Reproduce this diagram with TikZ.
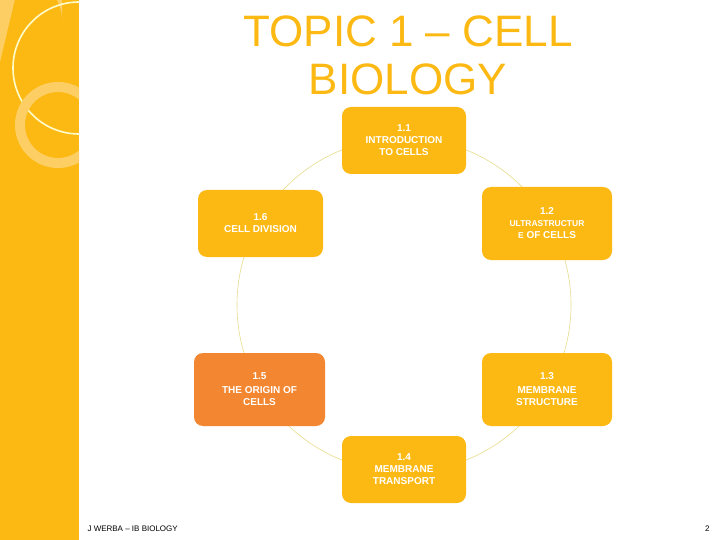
\documentclass[tikz,border=0pt]{standalone}
\usepackage{fontspec}
\setmainfont{Liberation Sans}
\definecolor{gold}{RGB}{253,185,19}
\definecolor{lgold}{RGB}{252,206,100}
\definecolor{orng}{RGB}{243,134,48}
\definecolor{ring}{RGB}{232,220,140}
\begin{document}
\begin{tikzpicture}[x=1pt,y=-1pt,
  topic/.style={fill=gold,rounded corners=9pt,text=white,align=center,font=\fontsize{10}{12}\selectfont\bfseries,inner sep=2pt},
  conn/.style={draw=ring,line width=0.6pt}]
\useasboundingbox (0,0) rectangle (720,540);
\fill[white] (0,0) rectangle (720,540);
\fill[gold] (0,0) rectangle (79,540);
\begin{scope}
\clip (0,0) rectangle (79,540);
\fill[lgold] (0,0) -- (62,0) -- (62,20) arc[start angle=0,end angle=90,x radius=42,y radius=-42] -- (0,62) -- cycle;
\draw[white!80!yellow,line width=1.6pt] (79,68) circle[radius=66];
\draw[lgold,line width=10pt] (58,125) circle[radius=38];
\end{scope}
\node[text=gold,font=\fontsize{44}{48}\selectfont,align=center] (title) at (408,55)
  {TOPIC 1 – CELL\\BIOLOGY};
\draw[conn] (404,305) circle[radius=167];
\node[topic,minimum width=124pt,minimum height=67pt] (t1) at (404,140.5) {1.1\\INTRODUCTION\\TO CELLS};
\node[topic,minimum width=130pt,minimum height=73pt] (t2) at (547,223.5) {1.2\\{\fontsize{8.5}{10}\selectfont ULTRASTRUCTUR}\\{\fontsize{8.5}{10}\selectfont E} OF CELLS};
\node[topic,minimum width=130pt,minimum height=73pt] (t3) at (547,389.5) {1.3\\[2pt]MEMBRANE\\STRUCTURE};
\node[topic,minimum width=124pt,minimum height=67pt] (t4) at (404,469.5) {1.4\\MEMBRANE\\TRANSPORT};
\node[topic,fill=orng,minimum width=131pt,minimum height=73pt] (t5) at (259.5,389.5) {1.5\\[2pt]THE ORIGIN OF\\CELLS};
\node[topic,minimum width=125pt,minimum height=67pt] (t6) at (260.5,223.5) {1.6\\CELL DIVISION};
\node[anchor=west,font=\fontsize{8}{10}\selectfont] (foot) at (84,529) {J WERBA – IB BIOLOGY};
\node[anchor=east,font=\fontsize{8}{10}\selectfont] (pg) at (713,529) {2};
\end{tikzpicture}
\end{document}
